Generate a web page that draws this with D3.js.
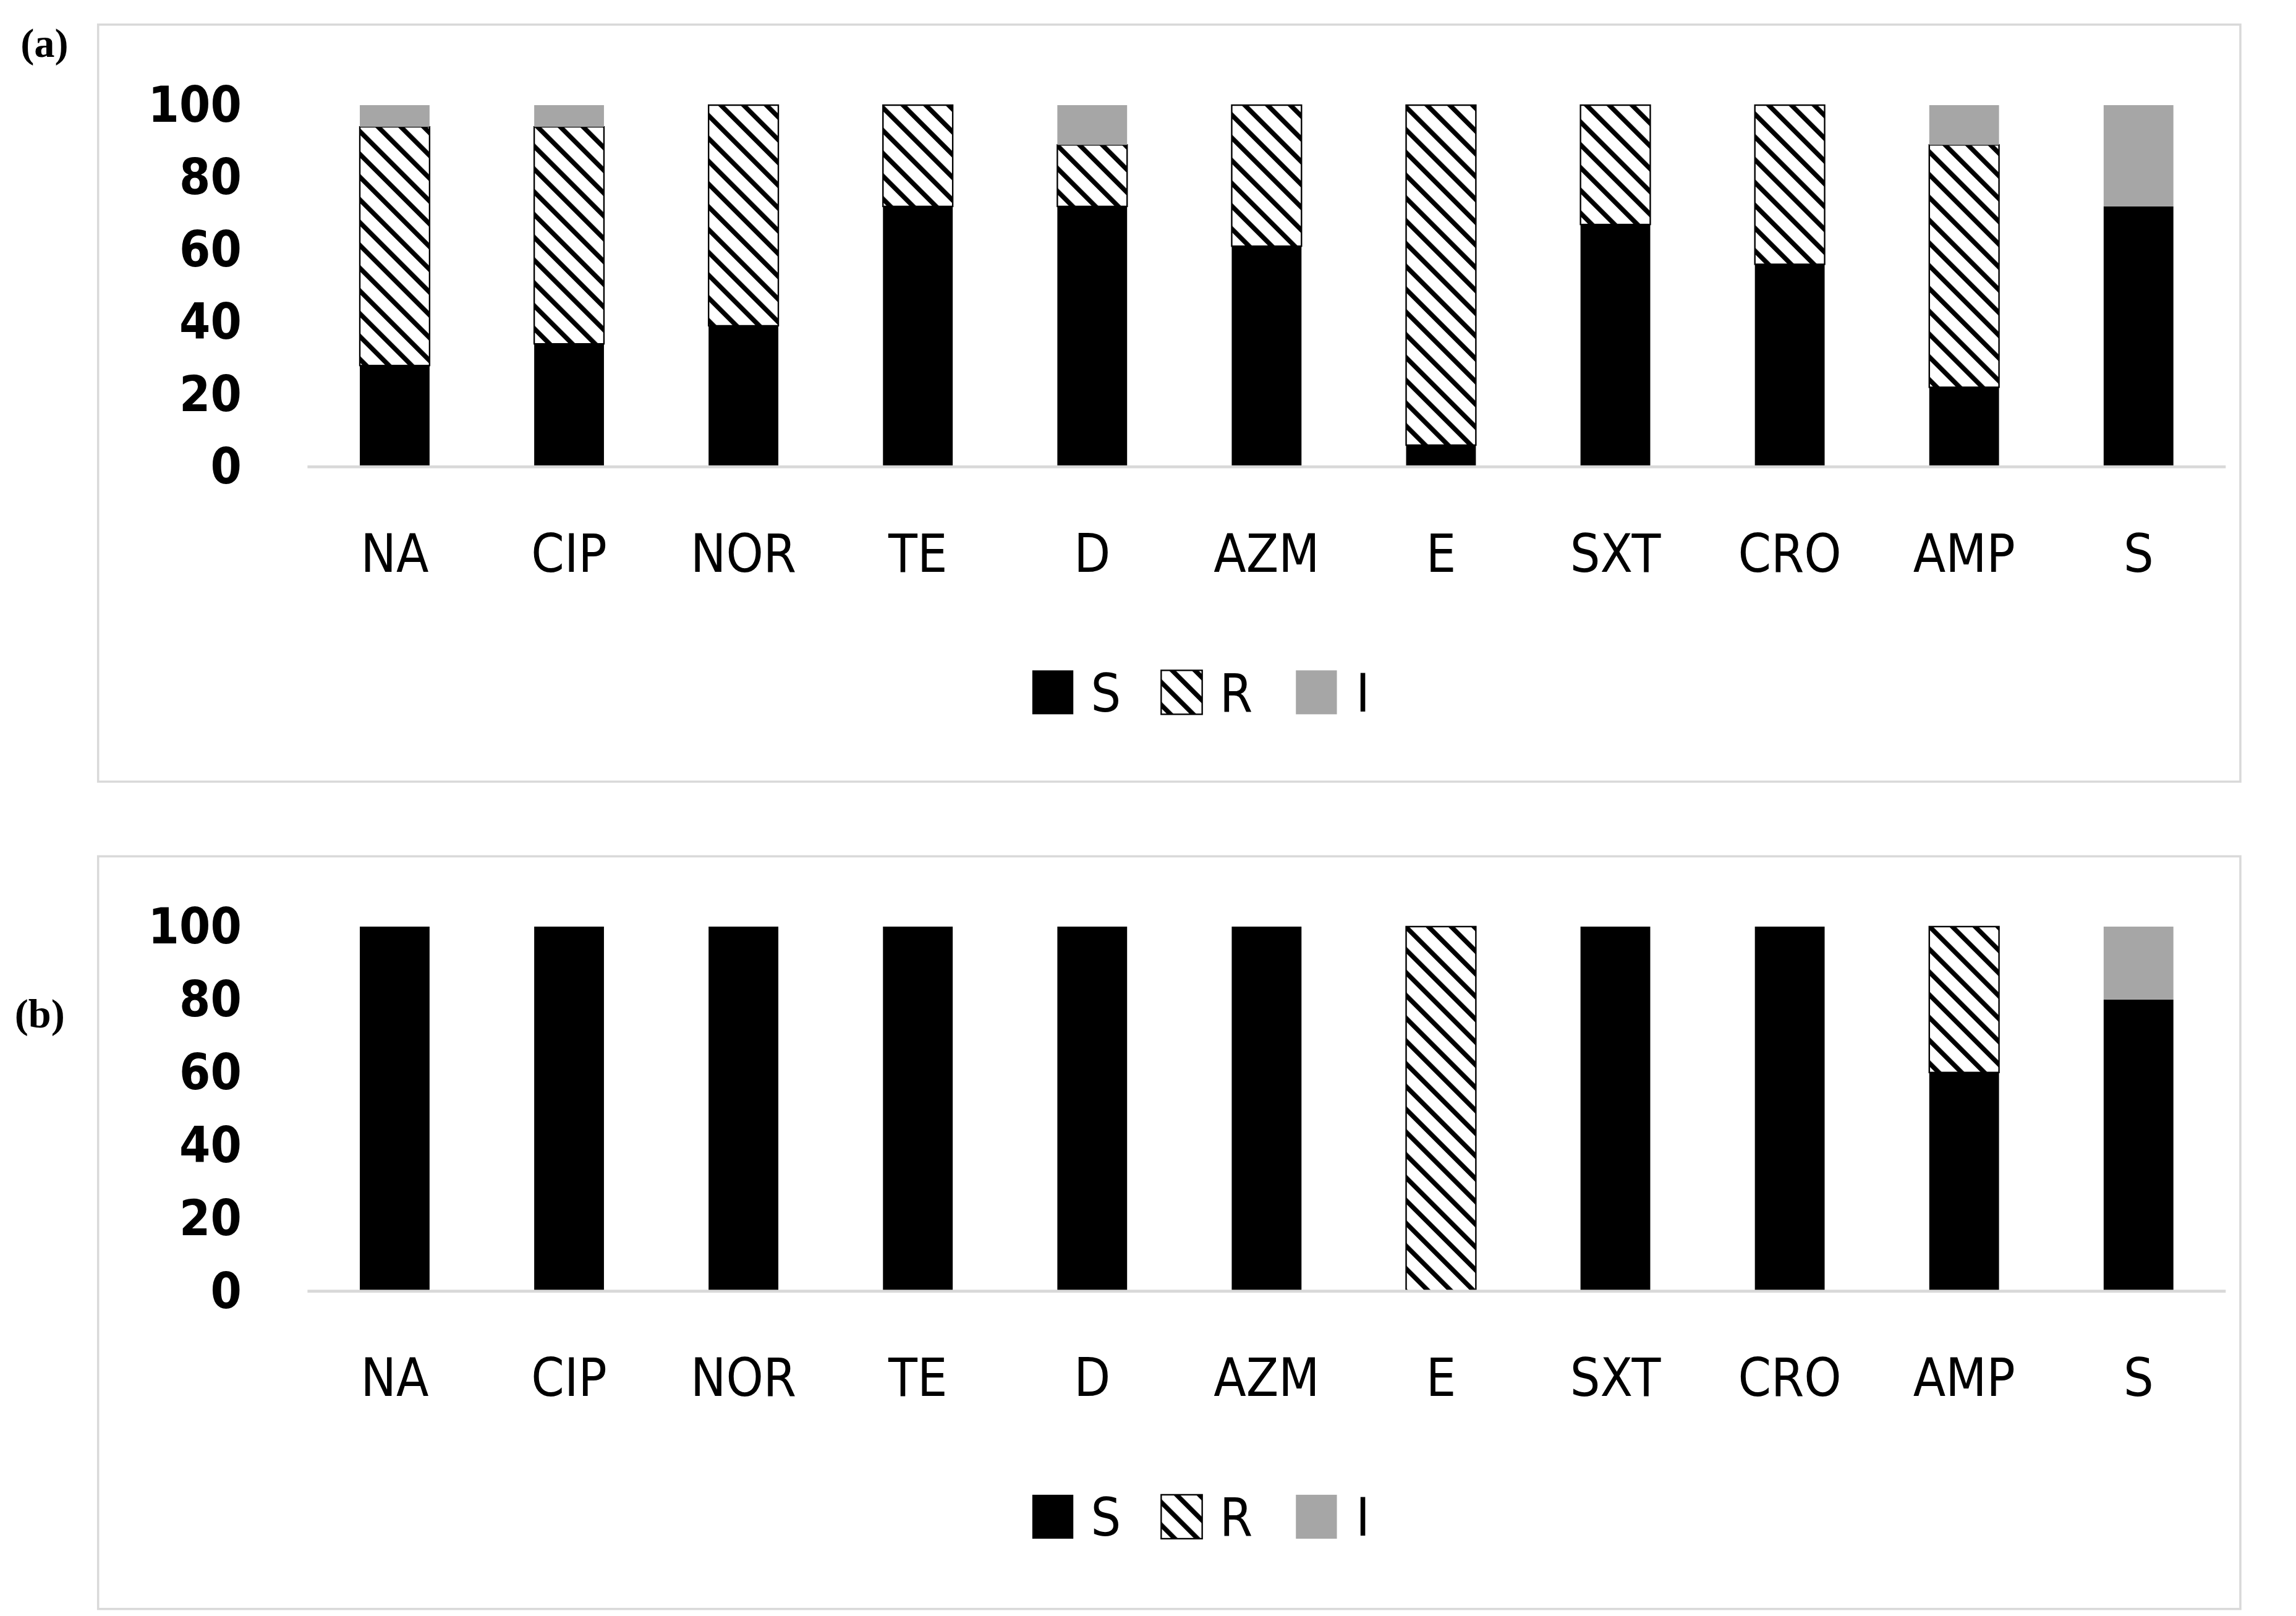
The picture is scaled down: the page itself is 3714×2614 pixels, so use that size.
<!DOCTYPE html>
<html><head><meta charset="utf-8">
<script src="https://cdn.jsdelivr.net/npm/d3@7"></script>
<style>body{margin:0;background:#fff}</style>
</head><body>
<script>
const categories = ["NA","CIP","NOR","TE","D","AZM","E","SXT","CRO","AMP","S"];
const keys = ["S","R","I"];
const aS = [28,34,39,72,72,61,6,67,56,22,72];
const aR = [66,60,61,28,17,39,94,33,44,67,0];
const aI = [6,6,0,0,11,0,0,0,0,11,28];
const bS = [100,100,100,100,100,100,0,100,100,60,80];
const bR = [0,0,0,0,0,0,100,0,0,40,0];
const bI = [0,0,0,0,0,0,0,0,0,0,20];
const yTicks = [0,20,40,60,80,100];

const svg = d3.select("body").append("svg")
  .attr("width",3714).attr("height",2614).attr("viewBox","0 0 1568 1100");
const defs = svg.append("defs");
const pat = defs.append("pattern").attr("id","hatch").attr("patternUnits","userSpaceOnUse")
  .attr("width",11).attr("height",11).attr("patternTransform","rotate(-45)");
pat.append("rect").attr("width",11).attr("height",11).attr("fill","#fff");
pat.append("rect").attr("x",0).attr("y",0).attr("width",3.2).attr("height",11).attr("fill","#000");
const fills = {S:"#000", R:"url(#hatch)", I:"#a6a6a6"};
const font = "'DejaVu Sans Condensed','Liberation Sans Narrow',sans-serif";

function panel(label, S, R, I, o) {
  svg.append("rect").attr("x",67).attr("y",o.top).attr("width",1463).attr("height",o.h)
    .attr("fill","none").attr("stroke","#d9d9d9").attr("stroke-width",1.5);
  svg.append("text").attr("x",o.lx).attr("y",o.ly).text(label)
    .attr("font-family","'Liberation Serif',serif").attr("font-weight","bold").attr("font-size",28);
  const rows = categories.map((c,i)=>({cat:c,S:S[i],R:R[i],I:I[i]}));
  const x = d3.scaleBand().domain(categories).range([210,1520]).paddingInner(0.6).paddingOuter(0.3);
  const y = d3.scaleLinear().domain([0,100]).range([o.y0,o.y100]);
  const stack = d3.stack().keys(keys)(rows);
  const g = svg.append("g");
  g.selectAll("g.s").data(stack).join("g").attr("fill",d=>fills[d.key])
    .selectAll("rect").data(d=>d).join("rect")
    .attr("x",d=>x(d.data.cat)).attr("width",x.bandwidth())
    .attr("y",d=>y(d[1])).attr("height",d=>y(d[0])-y(d[1]))
    .attr("stroke",function(){return d3.select(this.parentNode).datum().key==="R"?"#000":"none"})
    .attr("stroke-width",1);
  g.append("line").attr("x1",210).attr("x2",1520).attr("y1",y(0)).attr("y2",y(0))
    .attr("stroke","#d9d9d9").attr("stroke-width",2);
  const ya = g.append("g").attr("transform","translate(165,0)")
    .call(d3.axisLeft(y).tickValues(yTicks).tickSize(0).tickPadding(0));
  ya.select(".domain").remove();
  ya.selectAll("text").attr("font-family",font).attr("font-weight","bold").attr("font-size",34).attr("fill","#000");
  const xa = g.append("g").attr("transform",`translate(0,${y(0)})`)
    .call(d3.axisBottom(x).tickSize(0).tickPadding(o.xpad));
  xa.select(".domain").remove();
  xa.selectAll("text").attr("font-family",font).attr("font-size",36).attr("fill","#000");
  // legend
  const lx = [705,793,885], tx = [745,833,926];
  keys.forEach((k,i)=>{
    svg.append("rect").attr("x",lx[i]).attr("y",o.leg-15).attr("width",28).attr("height",30)
      .attr("fill",fills[k]).attr("stroke",k==="R"?"#000":"none");
    svg.append("text").attr("x",tx[i]).attr("y",o.leg).attr("dy","0.36em").text(k)
      .attr("font-family",font).attr("font-size",36);
  });
}
panel("(a)", aS, aR, aI, {top:15,h:517,lx:14,ly:37,y0:317,y100:70,xpad:46,leg:471});
panel("(b)", bS, bR, bI, {top:583,h:514,lx:10,ly:700,y0:880,y100:631,xpad:46,leg:1034});
</script>
</body></html>
